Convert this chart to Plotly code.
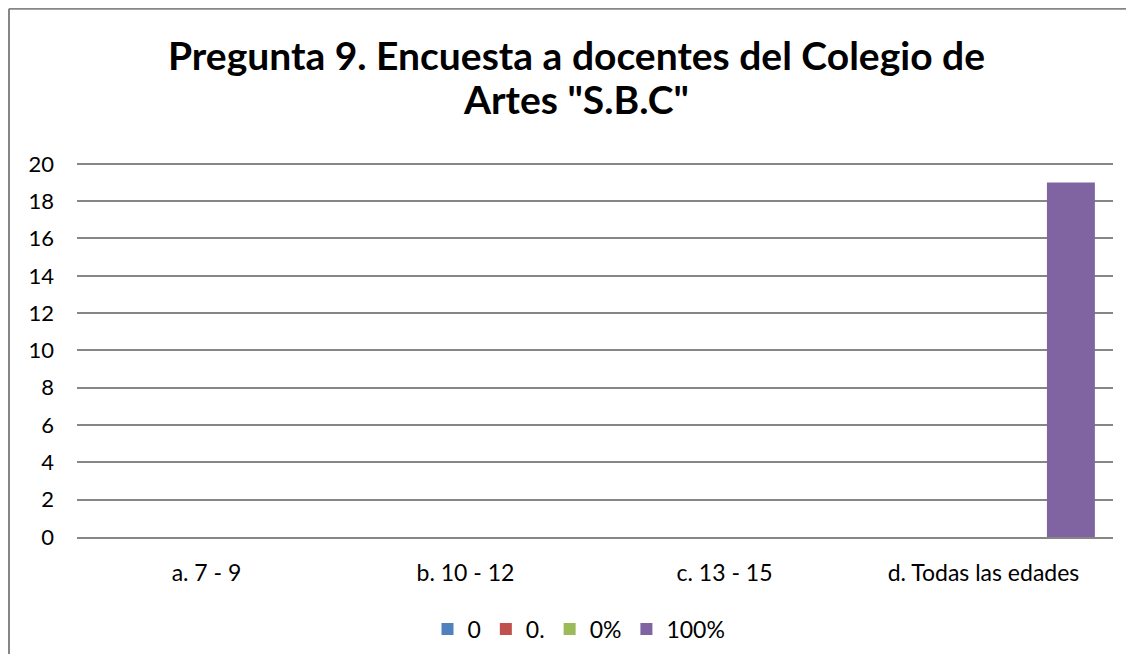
import plotly.graph_objects as go

categories = ["a. 7 - 9", "b. 10 - 12", "c. 13 - 15", "d. Todas las edades"]
series_names = ["0", "0.", "0%", "100%"]
series_0 = [0, 0, 0, 0]
series_0dot = [0, 0, 0, 0]
series_0pct = [0, 0, 0, 0]
series_100pct = [0, 0, 0, 19]
y_ticks = [0, 2, 4, 6, 8, 10, 12, 14, 16, 18, 20]
title_lines = ["Pregunta 9. Encuesta a docentes del Colegio de", "Artes \"S.B.C\""]

colors = ["#4F81BD", "#C0504D", "#9BBB59", "#8064A2"]
values = [series_0, series_0dot, series_0pct, series_100pct]

OFF = 8  # page body margin
W, H = 1134 - 2 * OFF, 662 - 2 * OFF
# plot area in page pixels: x 77..1113, y 164..537 (for 0..20)
PX0, PX1 = 77 - OFF, 1113 - OFF
PY_TOP20, PY0 = 164 - OFF, 537 - OFF
YMAX = 20.1
unit = (PY0 - PY_TOP20) / 20.0
T = PY0 - YMAX * unit
L, R, B = PX0, W - PX1, H - PY0
pw, ph = W - L - R, H - T - B

FONT = "Lato"

fig = go.Figure()
for name, vals, col in zip(series_names, values, colors):
    fig.add_trace(go.Bar(x=categories, y=vals, name=name, marker_color=col,
                         marker_line_width=0))


def px_x(p):
    return (p - OFF - L) / pw


def px_y(p):
    return (H - B - (p - OFF)) / ph


annotations = [
    dict(text="<b>%s</b>" % title_lines[0], xref="paper", yref="paper",
         x=px_x(576), y=px_y(55), xanchor="center", yanchor="middle",
         showarrow=False, font=dict(family=FONT, size=39, color="#000000")),
    dict(text="<b>%s</b>" % title_lines[1], xref="paper", yref="paper",
         x=px_x(576), y=px_y(99), xanchor="center", yanchor="middle",
         showarrow=False, font=dict(family=FONT, size=39, color="#000000")),
]

fig.update_layout(
    width=W, height=H,
    margin=dict(l=L, r=R, t=T, b=B, autoexpand=False),
    paper_bgcolor="white", plot_bgcolor="white",
    barmode="group", bargap=0.1, bargroupgap=0.177,
    font=dict(family=FONT, size=22, color="#000000"),
    xaxis=dict(showgrid=False, showline=True, linecolor="#868686", linewidth=2,
               ticks="", ticklabelstandoff=14, tickfont=dict(size=23)),
    yaxis=dict(range=[0, YMAX], tickvals=y_ticks, showgrid=True, gridcolor="#868686",
               gridwidth=1.5, zeroline=False, showline=False, ticks="",
               ticklabelstandoff=22, tickfont=dict(size=22)),
    legend=dict(orientation="h", x=px_x(579), xanchor="center",
                y=px_y(629), yanchor="middle", font=dict(size=23),
                itemwidth=30, traceorder="normal"),
    showlegend=True,
    annotations=annotations,
    shapes=[
        dict(type="line", xref="paper", yref="paper",
             x0=px_x(9), x1=px_x(1140), y0=px_y(9), y1=px_y(9),
             line=dict(color="#868686", width=2)),
        dict(type="line", xref="paper", yref="paper",
             x0=px_x(9), x1=px_x(9), y0=px_y(9), y1=px_y(670),
             line=dict(color="#868686", width=2)),
    ],
)

fig.write_html("out.html")
